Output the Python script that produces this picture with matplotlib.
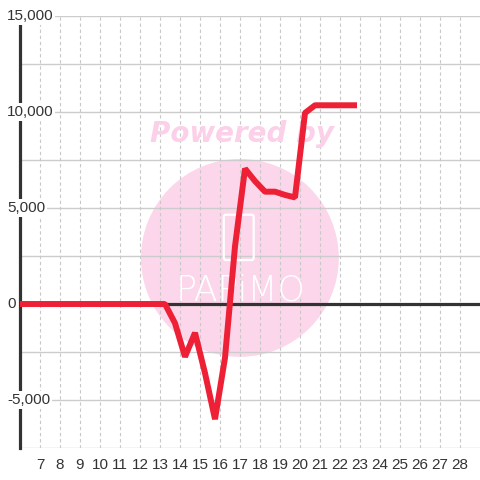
import matplotlib
matplotlib.use('Agg')
import matplotlib.pyplot as plt
from matplotlib.patches import Ellipse, FancyBboxPatch

# half-day points
days = [5.75, 6.25, 6.75, 7.25, 7.75, 8.25, 8.75, 9.25, 9.75, 10.25, 10.75, 11.25,
        11.75, 12.25, 12.75, 13.25, 13.75, 14.25, 14.75, 15.25, 15.75, 16.25, 16.75,
        17.25, 17.75, 18.25, 18.75, 19.25, 19.75, 20.25, 20.75, 21.25, 21.75, 22.25, 22.85]
values = [0, 0, 0, 0, 0, 0, 0, 0, 0, 0, 0, 0,
          0, 0, 0, 0, -1000, -2750, -1500, -3600, -6000, -2800, 3000,
          7050, 6400, 5850, 5850, 5680, 5550, 9950, 10350, 10350, 10350, 10350, 10350]

x_ticks = list(range(7, 29))
y_grid = [-7500, -5000, -2500, 0, 2500, 5000, 7500, 10000, 12500, 15000]
y_labels = {15000: '15,000', 10000: '10,000', 5000: '5,000', 0: '0', -5000: '-5,000'}

plt.rcParams['font.family'] = ['Liberation Sans', 'DejaVu Sans']

fig = plt.figure(figsize=(4.8, 4.8), dpi=100)
fig.patch.set_facecolor('white')
ax = fig.add_axes([20 / 480, 32 / 480, 460 / 480, 432 / 480])
ax.set_xlim(6, 29)
ax.set_ylim(-7500, 15000)

for s in ['top', 'right', 'bottom']:
    ax.spines[s].set_visible(False)
ax.spines['left'].set_color('#333333')
ax.spines['left'].set_linewidth(2.3)
ax.spines['left'].set_zorder(3)

# grid
for yv in y_grid:
    ax.axhline(yv, color='#cccccc', lw=1, zorder=1)
for xv in x_ticks:
    ax.axvline(xv, color='#c8c8c8', lw=0.8, ls=(0, (3, 2.5)), zorder=1)

# watermark
ax.add_patch(Ellipse((0.478, 0.44), 0.43, 0.458, transform=ax.transAxes,
                     facecolor='#fcd6ea', edgecolor='none', zorder=0.2))
ax.add_patch(FancyBboxPatch((0.448, 0.44), 0.055, 0.095, transform=ax.transAxes,
                            boxstyle='round,pad=0.005', facecolor='none',
                            edgecolor='white', lw=1.6, zorder=1.5))
ax.text(0.48, 0.365, 'PAPiMO', transform=ax.transAxes, ha='center', va='center',
        color='white', fontsize=25, fontfamily='DejaVu Sans', fontweight='light',
        zorder=1.5)
ax.text(0.483, 0.727, 'Powered by', transform=ax.transAxes, ha='center', va='center',
        color='#fcd0e8', fontsize=20, fontweight='bold', fontstyle='italic',
        fontfamily='DejaVu Sans', zorder=1.5)

ax.axhline(0, color='#333333', lw=2.3, zorder=2)
ax.plot(days, values, color='#ee2036', lw=4.3, solid_capstyle='butt',
        solid_joinstyle='bevel', zorder=4, clip_on=True)

ax.set_xticks(x_ticks)
ax.set_xticklabels([str(t) for t in x_ticks], fontsize=11, color='#333333')
ax.tick_params(axis='x', length=0, pad=7)
ax.set_yticks([])

for yv, lab in y_labels.items():
    ax.text(-13 / 460, yv, lab, transform=ax.get_yaxis_transform(),
            ha='left', va='center', fontsize=11, color='#333333', zorder=5,
            bbox=dict(facecolor='white', edgecolor='none', pad=1.2), clip_on=False)

fig.savefig('out.png', dpi=100)
